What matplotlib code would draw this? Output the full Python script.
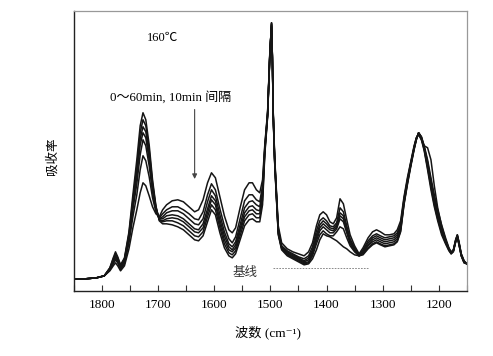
import numpy as np
import matplotlib
matplotlib.use("Agg")
import matplotlib.pyplot as plt
from matplotlib.ticker import MultipleLocator

plt.rcParams['font.family'] = ['Liberation Serif', 'Noto Sans CJK SC', 'DejaVu Serif']

# wavenumber grid (cm^-1)
wavenumber = [1850, 1830, 1810, 1796, 1786, 1780, 1776, 1772, 1767, 1760,
              1752, 1745, 1738, 1732, 1727, 1722, 1716, 1710, 1704, 1698,
              1692, 1685, 1675, 1665, 1655, 1645, 1635, 1628, 1620, 1612,
              1605, 1598, 1590, 1582, 1574, 1568, 1562, 1554, 1546, 1538,
              1532, 1525, 1519, 1514, 1510, 1505, 1501, 1498, 1496.5, 1495,
              1492.5, 1490.5, 1486, 1480, 1470, 1460, 1450, 1440, 1432, 1425,
              1418, 1412, 1406, 1400, 1394, 1388, 1382, 1376, 1370, 1364,
              1358, 1350, 1342, 1335, 1326, 1318, 1311, 1304, 1296, 1288,
              1280, 1274, 1268, 1262, 1256, 1250, 1244, 1240, 1236, 1231,
              1226, 1220, 1214, 1208, 1202, 1195, 1188, 1182, 1178, 1174,
              1170, 1167, 1164, 1160, 1155, 1150]

# absorbance (arbitrary units), 0 .. 60 min
abs_0min = [12, 12, 13, 15, 23, 33, 39, 34, 26, 33,
            59, 96, 131, 165, 178, 171, 146, 111, 85, 70,
            67, 67, 66, 64, 61, 56, 51, 50, 55, 69,
            81, 76, 58, 43, 35, 33, 37, 51, 65, 71,
            72, 69, 69, 86, 136, 174, 235, 267, 231, 174,
            129, 106, 56, 41, 35, 32, 29, 26, 27, 32,
            41, 51, 57, 55, 54, 52, 50, 47, 44, 42,
            39, 36, 35, 36, 42, 46, 48, 46, 44, 45,
            46, 49, 59, 86, 106, 124, 141, 151, 158, 154,
            145, 131, 113, 96, 81, 66, 53, 43, 39, 41,
            51, 56, 49, 37, 30, 27]
abs_10min = [12, 12, 13, 15, 23, 32, 37, 33, 25, 32,
             57, 91, 124, 158, 171, 165, 141, 108, 84, 71,
             69, 70, 70, 68, 65, 60, 55, 54, 59, 74,
             86, 81, 63, 47, 38, 36, 40, 55, 70, 76,
             77, 73, 73, 91, 138, 175, 236, 268, 232, 175,
             130, 107, 57, 42, 36, 33, 30, 27, 28, 35,
             47, 56, 60, 57, 55, 55, 59, 64, 62, 53,
             45, 39, 35, 37, 43, 47, 49, 47, 45, 46,
             47, 50, 60, 87, 107, 125, 142, 151, 158, 154,
             144, 129, 110, 93, 78, 63, 51, 42, 38, 41,
             51, 56, 48, 37, 30, 27]
abs_20min = [12, 12, 13, 15, 22, 30, 35, 31, 24, 31,
             55, 88, 119, 152, 164, 159, 136, 105, 83, 71,
             70, 72, 73, 72, 69, 64, 59, 58, 63, 78,
             91, 86, 67, 51, 41, 39, 43, 59, 74, 80,
             81, 77, 77, 95, 140, 176, 236, 268, 233, 176,
             131, 108, 58, 43, 37, 34, 31, 28, 29, 37,
             50, 60, 64, 61, 58, 58, 62, 72, 69, 58,
             47, 40, 35, 38, 45, 49, 51, 49, 47, 48,
             49, 52, 62, 88, 108, 126, 142, 152, 158, 153,
             143, 127, 108, 90, 76, 61, 50, 42, 38, 40,
             50, 55, 48, 36, 29, 27]
abs_30min = [12, 12, 13, 15, 22, 29, 34, 30, 23, 30,
             53, 85, 114, 146, 158, 153, 131, 103, 82, 72,
             72, 75, 76, 75, 72, 67, 62, 61, 67, 82,
             95, 90, 71, 55, 44, 41, 46, 62, 78, 84,
             85, 81, 80, 98, 141, 176, 237, 267, 233, 176,
             132, 109, 59, 44, 38, 35, 32, 29, 31, 39,
             53, 63, 67, 64, 61, 60, 64, 75, 72, 60,
             49, 41, 35, 39, 46, 51, 53, 51, 49, 50,
             51, 54, 64, 89, 109, 126, 143, 152, 158, 153,
             142, 125, 106, 88, 74, 60, 49, 41, 38, 40,
             50, 55, 47, 36, 29, 27]
abs_40min = [12, 12, 13, 15, 21, 28, 32, 29, 22, 29,
             51, 81, 107, 136, 151, 145, 125, 99, 81, 72,
             74, 78, 80, 80, 77, 72, 67, 66, 72, 89,
             101, 95, 76, 59, 47, 44, 49, 66, 83, 89,
             90, 86, 84, 101, 142, 177, 237, 266, 234, 177,
             133, 110, 60, 44, 39, 36, 33, 30, 33, 41,
             56, 66, 70, 67, 63, 62, 66, 78, 75, 62,
             50, 42, 36, 40, 48, 53, 55, 53, 51, 52,
             53, 56, 65, 91, 110, 127, 143, 152, 157, 152,
             141, 123, 104, 86, 72, 58, 48, 41, 37, 40,
             49, 54, 47, 35, 29, 27]
abs_50min = [12, 12, 13, 15, 21, 27, 31, 28, 21, 27,
             48, 74, 96, 121, 135, 130, 114, 93, 79, 73,
             77, 81, 84, 84, 81, 77, 72, 71, 79, 96,
             107, 101, 82, 65, 52, 48, 54, 72, 90, 96,
             96, 91, 89, 105, 144, 178, 238, 265, 234, 178,
             134, 111, 62, 45, 40, 37, 34, 32, 35, 44,
             60, 70, 73, 70, 65, 64, 68, 83, 79, 65,
             52, 43, 36, 41, 50, 55, 57, 55, 53, 54,
             55, 58, 67, 92, 111, 128, 144, 153, 157, 151,
             140, 121, 101, 84, 70, 56, 47, 40, 37, 39,
             49, 54, 46, 35, 28, 27]
abs_60min = [12, 12, 13, 15, 20, 25, 28, 25, 20, 25,
             42, 63, 81, 98, 108, 105, 95, 84, 77, 74,
             81, 86, 90, 91, 89, 84, 79, 81, 91, 108,
             118, 113, 94, 75, 61, 58, 63, 83, 101, 108,
             108, 101, 98, 111, 146, 179, 239, 264, 235, 179,
             136, 113, 65, 48, 42, 39, 37, 35, 39, 48,
             65, 76, 79, 76, 69, 67, 73, 92, 87, 71,
             56, 45, 37, 43, 53, 59, 61, 59, 56, 56,
             57, 61, 70, 94, 113, 129, 145, 153, 156, 151,
             145, 143, 131, 105, 83, 65, 51, 42, 38, 40,
             49, 53, 46, 35, 28, 27]

spectra = [abs_0min, abs_10min, abs_20min, abs_30min,
           abs_40min, abs_50min, abs_60min]

# dashed baseline under the 1500-1330 region
baseline_x = [1495, 1327]
baseline_y = [23, 23]

fig = plt.figure(figsize=(4.93, 3.56), dpi=100)
ax = fig.add_axes([0.150, 0.183, 0.797, 0.787])

wn = np.array(wavenumber)
for s in spectra:
    ax.plot(wn, np.array(s), color='#151515', lw=1.1, solid_joinstyle='round')

ax.plot(baseline_x, baseline_y, color='#777777', lw=0.6, dashes=(2, 1.5))

ax.set_xlim(1850, 1150)
ax.set_ylim(0, 280)

ax.xaxis.set_major_locator(MultipleLocator(100))
ax.xaxis.set_minor_locator(MultipleLocator(50))
ax.tick_params(axis='x', which='both', direction='in', top=False,
               labelsize=9.5, pad=6, width=0.8, color='#333333')
ax.tick_params(axis='x', which='major', length=4.5)
ax.tick_params(axis='x', which='minor', length=4)
ax.set_yticks([])

for side in ['left', 'bottom']:
    ax.spines[side].set_color('#222222')
    ax.spines[side].set_linewidth(1.0)
for side in ['top', 'right']:
    ax.spines[side].set_color('#999999')
    ax.spines[side].set_linewidth(0.9)

ax.set_xlabel('波数 (cm⁻¹)', fontsize=9.5)
ax.xaxis.set_label_coords(0.494, -0.125)
ax.set_ylabel('吸收率', fontsize=9)
ax.yaxis.set_label_coords(-0.04, 0.48)

ax.text(1692, 253, '160℃', fontsize=9, ha='center', va='center')
ax.text(1678, 193, '0～60min, 10min 间隔', fontsize=9.4,
        ha='center', va='center')
ax.annotate('', xy=(1635, 109), xytext=(1635, 184),
            arrowprops=dict(arrowstyle='-|>', color='#444444', lw=0.8,
                            mutation_scale=7))
ax.text(1546, 18, '基线', fontsize=9, ha='center', va='center',
        color='#333333')

fig.savefig('out.png', dpi=100)
